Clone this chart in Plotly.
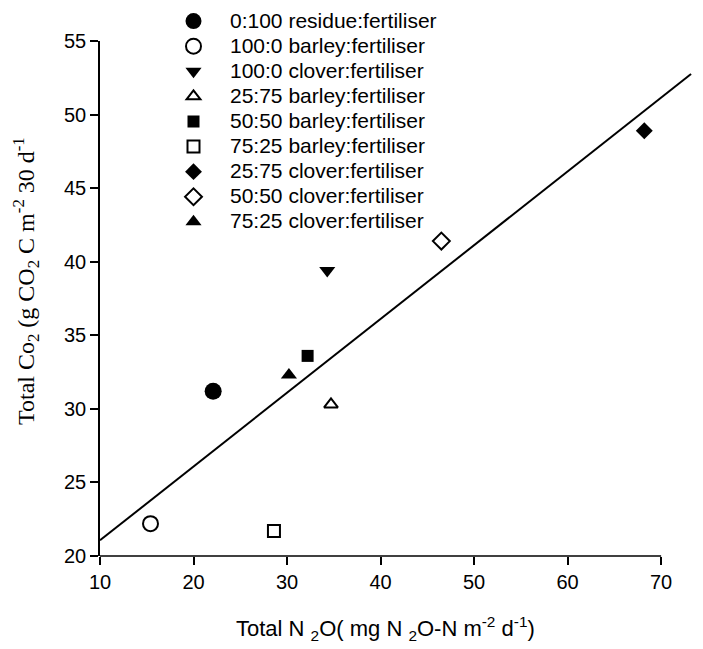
import numpy as np
import plotly.graph_objects as go

# ---- data ----
treatments = [
    "0:100 residue:fertiliser",
    "100:0 barley:fertiliser",
    "100:0 clover:fertiliser",
    "25:75 barley:fertiliser",
    "50:50 barley:fertiliser",
    "75:25 barley:fertiliser",
    "25:75 clover:fertiliser",
    "50:50 clover:fertiliser",
    "75:25 clover:fertiliser",
]
total_n2o = [22.1, 15.4, 34.3, 34.7, 32.2, 28.6, 68.2, 46.5, 30.2]
total_co2 = [31.2, 22.2, 39.4, 30.3, 33.6, 21.7, 48.9, 41.4, 32.3]
fit_x_range = [10, 73.2]

x_ticks = [10, 20, 30, 40, 50, 60, 70]
y_ticks = [20, 25, 30, 35, 40, 45, 50, 55]

# ---- styles ----
symbols = ["circle", "circle-open", "triangle-down", "triangle-up-open", "square",
           "square-open", "diamond", "diamond-open", "triangle-up"]
sizes = [17, 15, 14, 12, 12, 12, 13, 13, 14]

FONT = "Arial, Liberation Sans, sans-serif"
SERIF = "Times New Roman, Liberation Serif, serif"

fig = go.Figure()

slope, intercept = np.polyfit(total_n2o, total_co2, 1)
fx = np.array(fit_x_range)
fig.add_trace(go.Scatter(x=fx, y=intercept + slope * fx, mode="lines",
                         line=dict(color="black", width=2), showlegend=False,
                         hoverinfo="skip"))

for name, xv, yv, sym, sz in zip(treatments, total_n2o, total_co2, symbols, sizes):
    fig.add_trace(go.Scatter(
        x=[xv], y=[yv], mode="markers",
        name='<span style="font-size:21px">' + name + '</span>',
        marker=dict(symbol=sym, size=sz, color="black",
                    line=dict(color="black", width=2 if "open" in sym else 0)),
    ))

W_PX = 592
x_max = 10 + W_PX / 9.352

fig.update_layout(
    width=703, height=649,
    margin=dict(l=100, r=11, t=41, b=93, autoexpand=False),
    paper_bgcolor="white", plot_bgcolor="white",
    font=dict(family=FONT, size=20, color="black"),
    xaxis=dict(range=[10, x_max], tickvals=x_ticks, showline=False,
               ticks="outside", ticklen=8, tickwidth=1.5, tickcolor="black",
               showgrid=False, zeroline=False, automargin=False,
               tickfont=dict(family=FONT, size=20, color="black")),
    yaxis=dict(range=[20, 55], tickvals=y_ticks, showline=True, linecolor="black",
               linewidth=1.5, ticks="outside", ticklen=8, tickwidth=1.5,
               tickcolor="black", showgrid=False, zeroline=False, automargin=False,
               tickfont=dict(family=FONT, size=20, color="black")),
    legend=dict(xref="container", yref="container", x=157 / 703, y=1 - 3.5 / 649,
                xanchor="left", yanchor="top", bgcolor="rgba(0,0,0,0)",
                font=dict(family=FONT, size=17, color="black"),
                itemwidth=63, tracegroupgap=0),
    showlegend=True,
)

# x-axis line from 10 to 70 only (fit line runs past the axis end)
fig.add_shape(type="line", xref="x", yref="paper", x0=x_ticks[0], x1=x_ticks[-1],
              y0=0, y1=0, line=dict(color="black", width=1.5))

fig.add_annotation(
    text="Total Co<sub>2</sub> (g CO<sub>2</sub> C m<sup>-2</sup> 30 d<sup>-1</sup>",
    xref="paper", yref="paper", x=(26 - 100) / W_PX, y=(556 - 281) / 515,
    xanchor="center", yanchor="middle", textangle=-90, showarrow=False,
    font=dict(family=SERIF, size=24, color="black"))

fig.add_annotation(
    text="Total N <sub>2</sub>O( mg N <sub>2</sub>O-N m<sup>-2</sup> d<sup>-1</sup>)",
    xref="paper", yref="paper", x=(385 - 100) / W_PX, y=(556 - 628) / 515,
    xanchor="center", yanchor="middle", showarrow=False,
    font=dict(family=FONT, size=22, color="black"))

fig.write_html("out.html")
